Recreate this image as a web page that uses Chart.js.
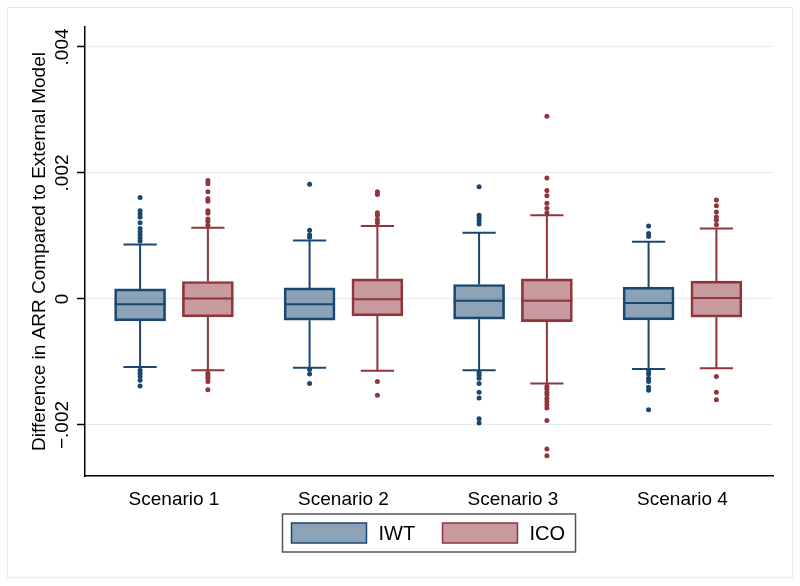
<!DOCTYPE html>
<html>
<head>
<meta charset="utf-8">
<script src="https://cdn.jsdelivr.net/npm/chart.js@4"></script>
<style>
  html, body { margin: 0; padding: 0; background: #fff; }
  #wrap { width: 800px; height: 586px; }
</style>
</head>
<body>
<div id="wrap"><canvas id="chart"></canvas></div>
<script>
// Values
const scenarios = ['Scenario 1', 'Scenario 2', 'Scenario 3', 'Scenario 4'];
const yTicks = [-0.002, 0, 0.002, 0.004];
const yTickLabels = ['\u2212.002', '0', '.002', '.004'];

const iwtLower  = [-0.00108, -0.00109, -0.00113, -0.00111];
const iwtQ1     = [-0.000348, -0.000337, -0.000321, -0.000332];
const iwtMedian = [-0.000083, -0.000083, -0.00003, -0.000062];
const iwtQ3     = [0.00016, 0.000176, 0.000229, 0.000187];
const iwtUpper  = [0.000864, 0.000928, 0.00105, 0.000907];
const iwtOutliers = [
    [0.00161, 0.00140, 0.00135, 0.00130, 0.00121, 0.00112, 0.00107, 0.00102, 0.00097, 0.00092,
     -0.00113, -0.00118, -0.00123, -0.00129, -0.00138],
    [0.00182, 0.00109, 0.00102, 0.00098, -0.00112, -0.00119, -0.00134],
    [0.00178, 0.00133, 0.00129, 0.00124, 0.00119,
     -0.00117, -0.00121, -0.00126, -0.00134, -0.00148, -0.00157, -0.00190, -0.00197],
    [0.00116, 0.00104, 0.00099, -0.00114, -0.00119, -0.00126, -0.00131, -0.00140, -0.00145, -0.00176]
];

const icoLower  = [-0.00113, -0.00114, -0.00134, -0.00110];
const icoQ1     = [-0.000284, -0.000268, -0.000359, -0.000289];
const icoMedian = [0.000006, -0.000003, -0.00003, 0.000017];
const icoQ3     = [0.000277, 0.000319, 0.000319, 0.000283];
const icoUpper  = [0.00113, 0.00116, 0.00133, 0.00112];
const icoOutliers = [
    [0.00188, 0.00183, 0.00170, 0.00159, 0.00155, 0.00140, 0.00136, 0.00127, 0.00123, 0.00117,
     -0.00118, -0.00122, -0.00126, -0.00131, -0.00144],
    [0.00170, 0.00166, 0.00137, 0.00133, 0.00126, 0.00121, -0.00131, -0.00153],
    [0.00290, 0.00192, 0.00172, 0.00164, 0.00152, 0.00144, 0.00137,
     -0.00139, -0.00143, -0.00148, -0.00152, -0.00158, -0.00163, -0.00168, -0.00173, -0.00193, -0.00238, -0.00249],
    [0.00157, 0.00148, 0.00138, 0.00130, 0.00125, 0.00118, -0.00123, -0.00148, -0.00160]
];

const FONT = '"Liberation Sans", Arial, Helvetica, sans-serif';
const navy = '#1a476f';
const maroon = '#90353b';

const groups = [
    { label: 'IWT', offset: -0.2, color: navy, fill: 'rgba(26, 71, 111, 0.5)',
      lower: iwtLower, q1: iwtQ1, median: iwtMedian, q3: iwtQ3, upper: iwtUpper, outliers: iwtOutliers },
    { label: 'ICO', offset: 0.2, color: maroon, fill: 'rgba(144, 53, 59, 0.5)',
      lower: icoLower, q1: icoQ1, median: icoMedian, q3: icoQ3, upper: icoUpper, outliers: icoOutliers }
];
const capHalf = 0.098; // half whisker cap width, in category units

const boxDatasets = groups.map(g => ({
    type: 'bar',
    label: g.label,
    data: scenarios.map((s, i) => ({ x: i + 1 + g.offset, y: [g.q1[i], g.q3[i]] })),
    backgroundColor: g.fill,
    borderColor: g.color,
    borderWidth: 2,
    borderSkipped: false,
    barThickness: 51,
    grouped: false,
    order: 2
}));

const outlierDatasets = groups.map(g => ({
    type: 'scatter',
    label: g.label + ' outliers',
    data: g.outliers.flatMap((vals, i) => vals.map(v => ({ x: i + 1 + g.offset, y: v }))),
    backgroundColor: g.color,
    borderWidth: 0,
    pointRadius: 2.5,
    pointHoverRadius: 2.5,
    order: 1
}));

// whiskers, caps, medians, rotated y labels, legend and outer frame
const boxExtras = {
    id: 'boxExtras',
    beforeDraw(chart) {
        const { ctx, width, height } = chart;
        ctx.save();
        ctx.strokeStyle = '#e6ecee';
        ctx.lineWidth = 1;
        ctx.strokeRect(7.5, 7.5, width - 15, height - 16);
        ctx.restore();
    },
    afterDatasetsDraw(chart) {
        const { ctx, scales: { x, y } } = chart;
        ctx.save();
        ctx.lineWidth = 2;
        ctx.lineCap = 'butt';
        groups.forEach((g, gi) => {
            const meta = chart.getDatasetMeta(gi);
            ctx.strokeStyle = g.color;
            scenarios.forEach((s, i) => {
                const pos = i + 1 + g.offset;
                const cx = x.getPixelForValue(pos);
                const c0 = x.getPixelForValue(pos - capHalf);
                const c1 = x.getPixelForValue(pos + capHalf);
                const bar = meta.data[i];
                const b0 = bar.x - bar.width / 2;
                const b1 = bar.x + bar.width / 2;
                ctx.beginPath();
                // upper whisker and cap
                ctx.moveTo(cx, y.getPixelForValue(g.q3[i]));
                ctx.lineTo(cx, y.getPixelForValue(g.upper[i]));
                ctx.moveTo(c0, y.getPixelForValue(g.upper[i]));
                ctx.lineTo(c1, y.getPixelForValue(g.upper[i]));
                // lower whisker and cap
                ctx.moveTo(cx, y.getPixelForValue(g.q1[i]));
                ctx.lineTo(cx, y.getPixelForValue(g.lower[i]));
                ctx.moveTo(c0, y.getPixelForValue(g.lower[i]));
                ctx.lineTo(c1, y.getPixelForValue(g.lower[i]));
                // median
                ctx.moveTo(b0, y.getPixelForValue(g.median[i]));
                ctx.lineTo(b1, y.getPixelForValue(g.median[i]));
                ctx.stroke();
            });
        });
        ctx.restore();
    },
    afterDraw(chart) {
        const { ctx, chartArea, scales: { y } } = chart;
        ctx.save();
        // y tick labels, rotated like Stata
        ctx.fillStyle = '#000';
        ctx.font = '19px ' + FONT;
        ctx.textAlign = 'center';
        ctx.textBaseline = 'alphabetic';
        yTicks.forEach((v, i) => {
            ctx.save();
            ctx.translate(chartArea.left - 17, y.getPixelForValue(v));
            ctx.rotate(-Math.PI / 2);
            ctx.fillText(yTickLabels[i], 0, 0);
            ctx.restore();
        });

        // legend
        const mid = (chartArea.left + chartArea.right) / 2;
        const lw = 293, lh = 38;
        const lx = mid - lw / 2, ly = chartArea.bottom + 38;
        ctx.strokeStyle = '#555';
        ctx.lineWidth = 1.5;
        ctx.strokeRect(lx, ly, lw, lh);
        ctx.font = '20px ' + FONT;
        ctx.textAlign = 'left';
        ctx.textBaseline = 'middle';
        groups.forEach((g, gi) => {
            const kx = lx + 9 + gi * 151;
            const ky = ly + 9;
            ctx.fillStyle = g.fill;
            ctx.fillRect(kx, ky, 75, 20);
            ctx.strokeStyle = g.color;
            ctx.lineWidth = 1.5;
            ctx.strokeRect(kx, ky, 75, 20);
            ctx.fillStyle = '#000';
            ctx.fillText(g.label, kx + 87, ly + lh / 2 + 1);
        });
        ctx.restore();
    }
};

const ctx = document.getElementById('chart').getContext('2d');
const chart = new Chart(ctx, {
    type: 'bar',
    data: { datasets: [...boxDatasets, ...outlierDatasets] },
    options: {
        responsive: true,
        maintainAspectRatio: false,
        animation: false,
        layout: { padding: { top: 27, right: 27, bottom: 80, left: 0 } },
        plugins: {
            legend: { display: false },
            tooltip: { enabled: false }
        },
        scales: {
            x: {
                type: 'linear',
                min: 0.475,
                max: 4.534,
                offset: false,
                afterBuildTicks: scale => { scale.ticks = scenarios.map((s, i) => ({ value: i + 1 })); },
                afterFit: scale => { scale.height = 30; },
                grid: { display: false },
                border: { display: true, color: '#000', width: 1.5 },
                ticks: {
                    color: '#000',
                    padding: 4,
                    maxRotation: 0,
                    font: { family: FONT, size: 19 },
                    callback: (v, i) => scenarios[i]
                }
            },
            y: {
                type: 'linear',
                min: -0.00281,
                max: 0.004317,
                afterBuildTicks: scale => { scale.ticks = yTicks.map(v => ({ value: v })); },
                afterFit: scale => { scale.width = 85; },
                grid: {
                    color: '#e4ecef',
                    lineWidth: 1,
                    drawTicks: true,
                    tickLength: 8,
                    tickColor: '#000',
                    tickWidth: 1.5
                },
                border: { display: true, color: '#000', width: 1.5 },
                ticks: { display: false },
                title: {
                    display: true,
                    text: 'Difference in ARR Compared to External Model',
                    color: '#000',
                    font: { family: FONT, size: 19 },
                    padding: { top: 28, bottom: 0 }
                }
            }
        }
    },
    plugins: [boxExtras]
});
</script>
</body>
</html>
